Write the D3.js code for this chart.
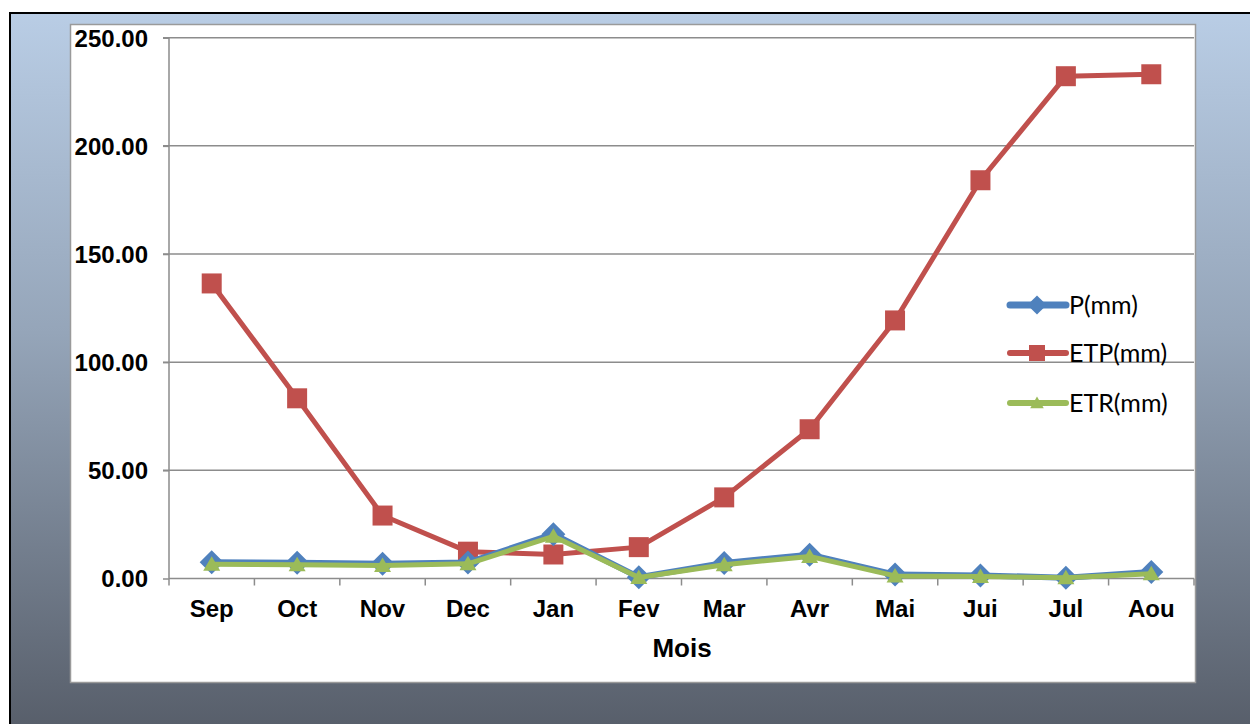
<!DOCTYPE html>
<html><head><meta charset="utf-8">
<script src="https://cdn.jsdelivr.net/npm/d3@7"></script>
<style>html,body{margin:0;padding:0;background:#fff;}</style>
</head><body>
<script>
const months = ["Sep","Oct","Nov","Dec","Jan","Fev","Mar","Avr","Mai","Jui","Jul","Aou"];
const pValues   = [7.5, 7.3, 6.8, 7.4, 20.5, 0.6, 7.2, 11.0, 1.8, 1.4, 0.4, 3.0];
const etpValues = [136.4, 83.3, 29.1, 12.4, 11.1, 14.5, 37.5, 69.0, 119.3, 184.1, 232.2, 233.1];
const etrValues = [6.6, 6.4, 6.0, 6.8, 19.5, 0.5, 6.4, 10.2, 1.2, 0.9, 0.3, 2.2];
const yTicks = [0, 50, 100, 150, 200, 250];
const seriesNames = ["P(mm)", "ETP(mm)", "ETR(mm)"];

(function(){
const W = 1250, H = 724;
const svg = d3.select("body").append("svg").attr("width", W).attr("height", H);
const defs = svg.append("defs");
const grad = defs.append("linearGradient").attr("id","bg").attr("x1",0).attr("y1",0).attr("x2",0).attr("y2",1);
grad.append("stop").attr("offset","0%").attr("stop-color","#b9cde5");
grad.append("stop").attr("offset","45%").attr("stop-color","#95a5b9");
grad.append("stop").attr("offset","100%").attr("stop-color","#585f6b");

svg.append("rect").attr("x",10).attr("y",13).attr("width",W-10).attr("height",H-13).attr("fill","url(#bg)");
svg.append("line").attr("x1",10).attr("x2",W).attr("y1",13).attr("y2",13).attr("stroke","#000").attr("stroke-width",2);
svg.append("line").attr("x1",10).attr("x2",10).attr("y1",12).attr("y2",H).attr("stroke","#000").attr("stroke-width",2);

svg.append("rect").attr("x",70.5).attr("y",24.5).attr("width",1125).attr("height",658)
  .attr("fill","#fff").attr("stroke","#9a9a9a").attr("stroke-width",1.5);

const pLeft = 169, pRight = 1194, pTop = 37.7, pBottom = 578.5;
const x = d3.scaleBand().domain(months).range([pLeft, pRight]);
const y = d3.scaleLinear().domain([0, 250]).range([pBottom, pTop]);

const g = svg.append("g");
g.selectAll(".grid").data(yTicks.filter(d=>d>0)).enter().append("line")
  .attr("x1", pLeft-6).attr("x2", pRight).attr("y1", d=>y(d)).attr("y2", d=>y(d))
  .attr("stroke","#8c8c8c").attr("stroke-width",1.5);

const yAxis = d3.axisLeft(y).tickValues(yTicks).tickSize(6).tickPadding(14).tickFormat(d3.format(".2f"));
const ya = g.append("g").attr("transform",`translate(${pLeft},0)`).call(yAxis);
ya.select(".domain").attr("stroke","#8c8c8c").attr("stroke-width",1.5).attr("d",`M-6,${pTop}H0V${pBottom}`);
ya.selectAll(".tick line").attr("stroke","#8c8c8c").attr("stroke-width",1.5);
ya.selectAll(".tick text").attr("font-family","Liberation Sans, Arial, sans-serif").attr("font-weight","bold")
  .attr("font-size",24).attr("fill","#000").attr("dy","0.35em").attr("x",-21);

const xAxis = d3.axisBottom(x).tickSize(0).tickPadding(22);
const xa = g.append("g").attr("transform",`translate(0,${pBottom})`).call(xAxis);
xa.select(".domain").attr("stroke","#8c8c8c").attr("stroke-width",1.5).attr("d",`M${pLeft},0H${pRight}`);
xa.selectAll(".tick text").attr("font-family","Liberation Sans, Arial, sans-serif").attr("font-weight","bold")
  .attr("font-size",24).attr("fill","#000").attr("dy","0.35em").attr("y",30);
const bandTicks = months.map((m,i)=> pLeft + i*x.step()).concat([pRight]);
xa.selectAll(".btick").data(bandTicks).enter().append("line")
  .attr("x1",d=>d).attr("x2",d=>d).attr("y1",0).attr("y2",7).attr("stroke","#8c8c8c").attr("stroke-width",1.5);

svg.append("text").attr("x", 682).attr("y", 648).attr("dy","0.35em").attr("text-anchor","middle")
  .attr("font-family","Liberation Sans, Arial, sans-serif").attr("font-weight","bold").attr("font-size",26)
  .text("Mois");

const cx = d => x(d) + x.bandwidth()/2;
const line = d3.line().x((d,i)=>cx(months[i])).y(d=>y(d));

const diamondPath = "M0,-12L12,0L0,12L-12,0Z";
const squarePath = "M-10,-10H10V10H-10Z";
const trianglePath = "M0,-8L8.5,6.5H-8.5Z";

const series = [
  {name: seriesNames[0], values: pValues, color:"#4f81bd", width:6, sym: diamondPath},
  {name: seriesNames[1], values: etpValues, color:"#c0504d", width:5, sym: squarePath},
  {name: seriesNames[2], values: etrValues, color:"#9bbb59", width:5, sym: trianglePath},
];
const drawOrder = [series[1], series[0], series[2]];
drawOrder.forEach(s=>{
  g.append("path").datum(s.values).attr("d", line).attr("fill","none")
    .attr("stroke", s.color).attr("stroke-width", s.width).attr("stroke-linejoin","round");
  g.selectAll(null).data(s.values).enter().append("path")
    .attr("d", s.sym).attr("transform",(d,i)=>`translate(${cx(months[i])},${y(d)})`)
    .attr("fill", s.color);
});

const legY = [305, 353, 403];
series.forEach((s,i)=>{
  const lg = svg.append("g").attr("transform",`translate(0,${legY[i]})`);
  lg.append("line").attr("x1",1010).attr("x2",1066).attr("y1",0).attr("y2",0)
    .attr("stroke",s.color).attr("stroke-width",s.width+1).attr("stroke-linecap","round");
  lg.append("path").attr("d",s.sym).attr("transform","translate(1037,0) scale(0.8)").attr("fill",s.color);
  lg.append("text").attr("x",1069).attr("y",0).attr("dy","0.35em")
    .attr("font-family","Lato, Open Sans, sans-serif").attr("font-size",25).attr("fill","#000")
    .text(s.name);
});
})();
</script>
</body></html>
